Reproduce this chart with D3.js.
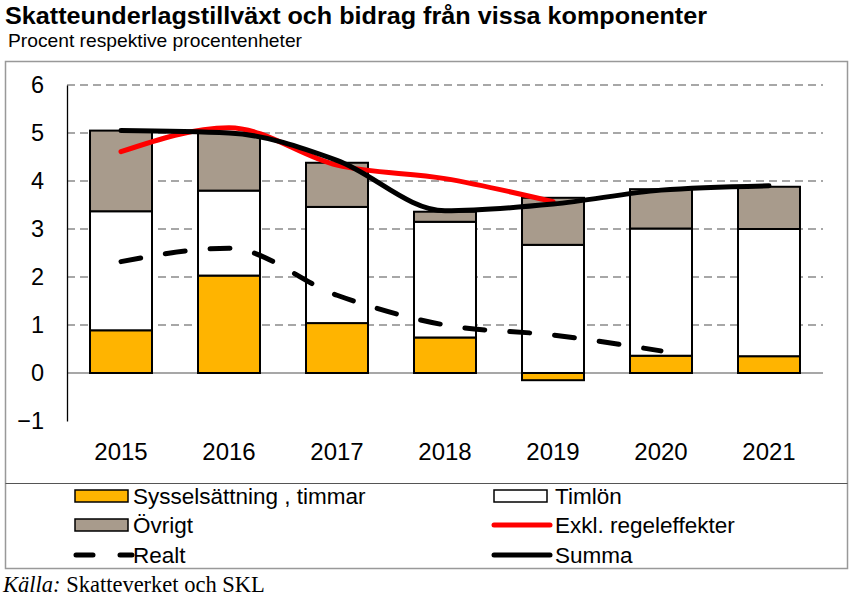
<!DOCTYPE html>
<html><head><meta charset="utf-8">
<script src="https://cdn.jsdelivr.net/npm/d3@7"></script>
<style>body{margin:0;background:#fff}svg{display:block}</style>
</head><body>
<svg id="c" width="853" height="599"></svg>
<script>
const years = ["2015","2016","2017","2018","2019","2020","2021"];
const sysselsattning = [0.89, 2.03, 1.04, 0.74, -0.15, 0.36, 0.35];
const timlon = [2.48, 1.77, 2.42, 2.41, 2.67, 2.65, 2.65];
const ovrigt = [1.68, 1.20, 0.92, 0.21, 0.98, 0.82, 0.88];
const exklRegel = [4.61, 5.11, 4.33, 4.05, 3.57];
const realt = [2.32, 2.60, 1.62, 1.00, 0.79, 0.46];
const summa = [5.05, 5.00, 4.43, 3.38, 3.52, 3.81, 3.90];
const yTicks = [-1, 0, 1, 2, 3, 4, 5, 6];

const svg = d3.select("#c");
const F = "Liberation Sans, Arial, sans-serif";

svg.append("text").attr("x",5).attr("y",24).attr("font-family",F).attr("font-weight","bold")
  .attr("font-size",24).attr("textLength",702).attr("lengthAdjust","spacingAndGlyphs")
  .text("Skatteunderlagstillväxt och bidrag från vissa komponenter");
svg.append("text").attr("x",8).attr("y",47).attr("font-family",F)
  .attr("font-size",18.5).attr("textLength",294).attr("lengthAdjust","spacingAndGlyphs")
  .text("Procent respektive procentenheter");

// outer box
svg.append("rect").attr("x",5.5).attr("y",61.5).attr("width",842).attr("height",507)
  .attr("fill","none").attr("stroke","#999").attr("stroke-width",1.5);
svg.append("line").attr("x1",5.5).attr("x2",847.5).attr("y1",483.5).attr("y2",483.5)
  .attr("stroke","#555").attr("stroke-width",1.2);

const x = d3.scaleBand().domain(years).range([67, 823]).paddingInner(0.426).paddingOuter(0.213);
const y = d3.scaleLinear().domain([-1, 6]).range([421, 85]);

// grid
const grid = svg.append("g");
yTicks.filter(t => t > 0).forEach(t => {
  grid.append("line").attr("x1",67).attr("x2",823).attr("y1",y(t)).attr("y2",y(t))
    .attr("stroke","#8a8a8a").attr("stroke-width",1.3).attr("stroke-dasharray","8,5");
});
grid.append("line").attr("x1",67).attr("x2",823).attr("y1",y(0)).attr("y2",y(0))
  .attr("stroke","#8a8a8a").attr("stroke-width",1.3);

// y axis
const yAxis = d3.axisLeft(y).tickValues(yTicks).tickSize(0).tickPadding(23).tickFormat(d3.format("d"));
const ya = svg.append("g").attr("transform","translate(67,0)").call(yAxis);
ya.select(".domain").attr("stroke","#000").attr("stroke-width",1.3);
ya.selectAll("text").attr("font-family",F).attr("font-size",23.5).attr("fill","#000");

// x axis labels
const xAxis = d3.axisBottom(x).tickSize(0).tickPadding(0);
const xa = svg.append("g").attr("transform","translate(0,460)").call(xAxis);
xa.select(".domain").remove();
xa.selectAll("text").attr("font-family",F).attr("font-size",24).attr("fill","#000").attr("dy","0").attr("y",0);

// stacked bars
const table = years.map((yr,i) => ({year: yr, s: sysselsattning[i], t: timlon[i], o: ovrigt[i]}));
const stack = d3.stack().keys(["s","t","o"]).offset(d3.stackOffsetDiverging);
const series = stack(table);
const colors = {s:"#FFB400", t:"#FFFFFF", o:"#A89B8C"};
series.forEach(ser => {
  svg.append("g").selectAll("rect").data(ser).join("rect")
    .attr("x", d => x(d.data.year))
    .attr("width", x.bandwidth())
    .attr("y", d => y(Math.max(d[0], d[1])))
    .attr("height", d => Math.abs(y(d[0]) - y(d[1])))
    .attr("fill", colors[ser.key])
    .attr("stroke","#000").attr("stroke-width",2);
});

const cx = i => x(years[i]) + x.bandwidth()/2;
const line = d3.line().x((d,i) => cx(i)).y(d => y(d)).curve(d3.curveMonotoneX);

svg.append("path").attr("d", line(exklRegel)).attr("fill","none")
  .attr("stroke","#FF0000").attr("stroke-width",5).attr("stroke-linecap","round");
svg.append("path").attr("d", line(summa)).attr("fill","none")
  .attr("stroke","#000").attr("stroke-width",5).attr("stroke-linecap","round");
svg.append("path").attr("d", line(realt)).attr("fill","none")
  .attr("stroke","#000").attr("stroke-width",5).attr("stroke-linecap","round")
  .attr("stroke-dasharray","20,25");

// legend
const leg = svg.append("g");
const LF = 22.5;
function legText(xp, yp, t){
  leg.append("text").attr("x",xp).attr("y",yp).attr("font-family",F).attr("font-size",LF)
    .attr("dominant-baseline","central").text(t);
}
const rows = [496, 525, 555];
leg.append("rect").attr("x",75).attr("y",rows[0]-6).attr("width",53).attr("height",12)
  .attr("fill","#FFB400").attr("stroke","#000").attr("stroke-width",1.5);
legText(133, rows[0], "Sysselsättning , timmar");
leg.append("rect").attr("x",494).attr("y",rows[0]-6).attr("width",53).attr("height",12)
  .attr("fill","#fff").attr("stroke","#000").attr("stroke-width",1.5);
legText(555, rows[0], "Timlön");
leg.append("rect").attr("x",75).attr("y",rows[1]-6).attr("width",53).attr("height",12)
  .attr("fill","#A89B8C").attr("stroke","#000").attr("stroke-width",1.5);
legText(133, rows[1], "Övrigt");
leg.append("line").attr("x1",494).attr("x2",550).attr("y1",rows[1]).attr("y2",rows[1])
  .attr("stroke","#FF0000").attr("stroke-width",5).attr("stroke-linecap","round");
legText(555, rows[1], "Exkl. regeleffekter");
leg.append("line").attr("x1",76).attr("x2",132).attr("y1",rows[2]).attr("y2",rows[2])
  .attr("stroke","#000").attr("stroke-width",5).attr("stroke-linecap","round").attr("stroke-dasharray","17,27");
legText(133, rows[2], "Realt");
leg.append("line").attr("x1",494).attr("x2",550).attr("y1",rows[2]).attr("y2",rows[2])
  .attr("stroke","#000").attr("stroke-width",5).attr("stroke-linecap","round");
legText(555, rows[2], "Summa");

// source
const src = svg.append("text").attr("x",3).attr("y",592).attr("font-family","Liberation Serif, Times New Roman, serif").attr("font-size",22.5);
src.append("tspan").attr("font-style","italic").text("Källa:");
src.append("tspan").text(" Skatteverket och SKL");
</script>
</body></html>
